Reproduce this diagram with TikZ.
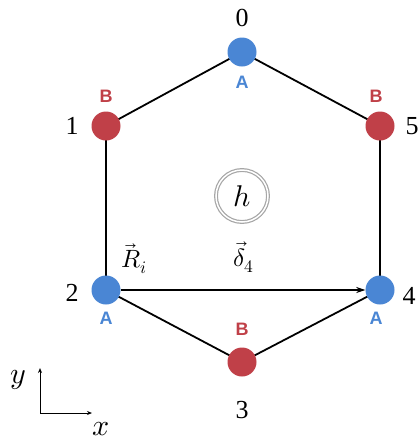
\documentclass[tikz,border=0pt]{standalone}
\usepackage{fontspec}
\setmainfont{Liberation Serif}
\setsansfont{Liberation Sans}
\usepackage{unicode-math}
\setmathfont{Latin Modern Math}
\usetikzlibrary{arrows.meta}
\definecolor{siteA}{RGB}{74,134,212}
\definecolor{siteB}{RGB}{192,64,72}
\tikzset{
  siteAdot/.style={circle,fill=siteA,minimum size=29pt,inner sep=0pt},
  siteBdot/.style={circle,fill=siteB,minimum size=29pt,inner sep=0pt},
  bond/.style={line width=1.8pt},
  num/.style={font=\fontsize{26}{28}\selectfont},
  labA/.style={text=siteA,font=\sffamily\bfseries\fontsize{18}{20}\selectfont},
  labB/.style={text=siteB,font=\sffamily\bfseries\fontsize{18}{20}\selectfont},
  mathlab/.style={font=\fontsize{25}{27}\selectfont},
}
\begin{document}
\begin{tikzpicture}[x=1pt,y=-1pt]
\useasboundingbox (0,0) rectangle (418,445);
\fill[white] (0,0) rectangle (418,445);
\coordinate (p0) at (242,52);
\coordinate (p1) at (106,126);
\coordinate (p2) at (106,290);
\coordinate (p3) at (242,362);
\coordinate (p4) at (380,290);
\coordinate (p5) at (380,126);
\draw[bond] (p0) -- (p1) -- (p2) -- (p3) -- (p4) -- (p5) -- cycle;
\node[siteAdot] (n0) at (p0) {};
\node[siteBdot] (n1) at (p1) {};
\node[siteAdot] (n2) at (p2) {};
\node[siteBdot] (n3) at (p3) {};
\node[siteAdot] (n4) at (p4) {};
\node[siteBdot] (n5) at (p5) {};
\draw[line width=1.3pt,-{Stealth[length=9pt,width=6pt]}] (n2) -- (n4);
\node[num] (l0) at (242,18) {0};
\node[num] (l1) at (72,126) {1};
\node[num] (l2) at (72,293) {2};
\node[num] (l3) at (242,410) {3};
\node[num] (l4) at (409,296) {4};
\node[num] (l5) at (412,126) {5};
\node[labA] (a0) at (242,82) {A};
\node[labB] (b1) at (106,96) {B};
\node[labA] (a2) at (106,318) {A};
\node[labB] (b3) at (242,329) {B};
\node[labA] (a4) at (376,318) {A};
\node[labB] (b5) at (376,96) {B};
\node[circle,draw=gray!70,double=white,double distance=1.5pt,line width=1.2pt,minimum size=52pt,inner sep=0pt,font=\fontsize{30}{32}\selectfont] (h) at (242,196) {$h$};
\node[mathlab] (R) at (134,259) {$\vec{R}_i$};
\node[mathlab] (d) at (244,257) {$\vec{\delta}_4$};
\coordinate (o) at (40,413);
\coordinate (ya) at (40,368);
\coordinate (xa) at (92,413);
\draw[line width=1pt,-{Stealth[length=5pt,width=4pt]}] (o) -- (ya);
\draw[line width=1pt,-{Stealth[length=5pt,width=4pt]}] (o) -- (xa);
\node[font=\fontsize{30}{32}\selectfont] (ylab) at (18,380) {$y$};
\node[font=\fontsize{30}{32}\selectfont] (xlab) at (101,429) {$x$};
\end{tikzpicture}
\end{document}
